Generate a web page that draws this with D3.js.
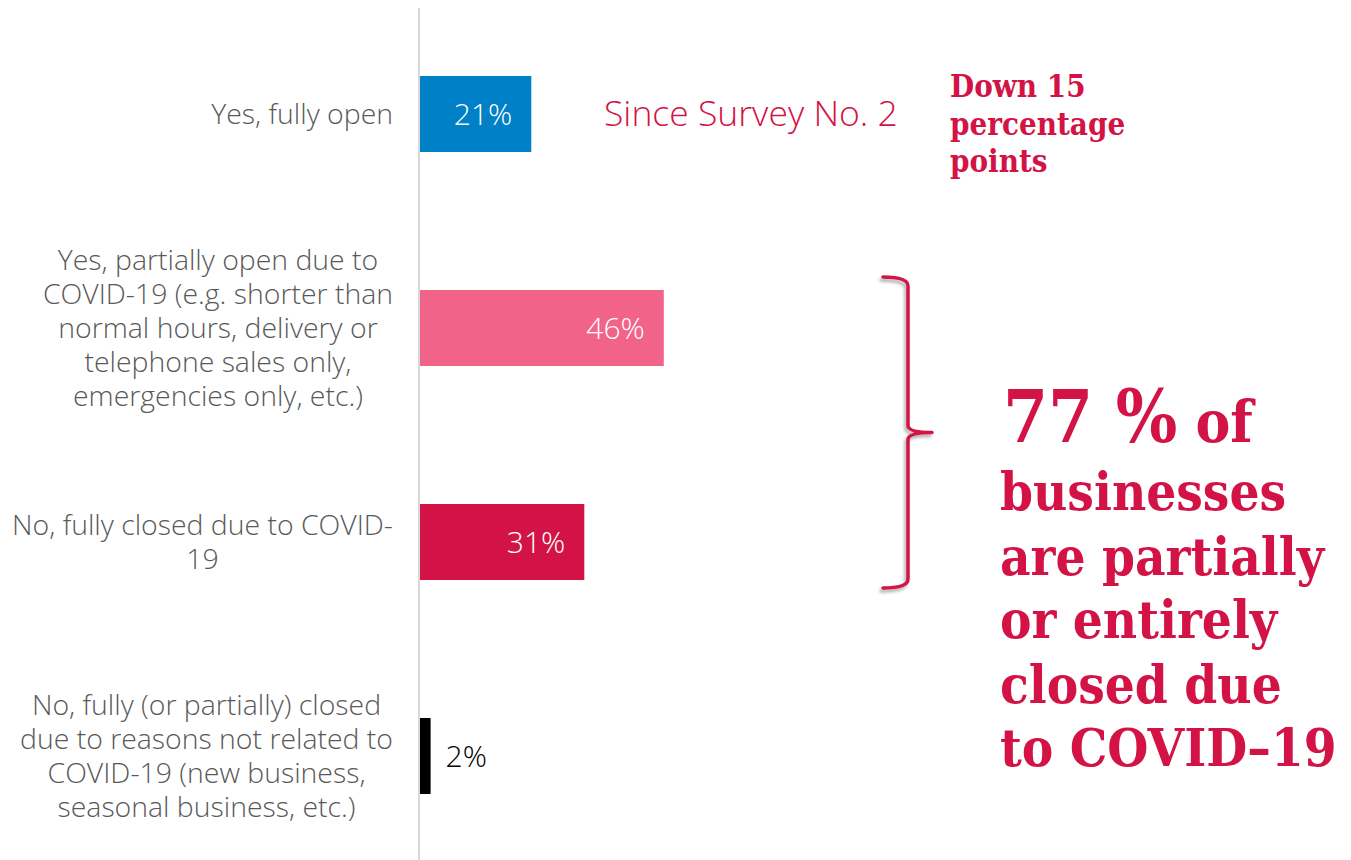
<!DOCTYPE html>
<html>
<head>
<meta charset="utf-8">
<script src="https://cdn.jsdelivr.net/npm/d3@7"></script>
<style>
  html, body { margin: 0; padding: 0; background: #fff; }
  svg { display: block; }
  .sans { font-family: "Open Sans", "Noto Sans", sans-serif; font-weight: 300; }
  .serif { font-family: "DejaVu Serif Condensed", "DejaVu Serif", serif; font-stretch: condensed; font-weight: bold; }
</style>
</head>
<body>
<svg id="chart" width="1351" height="860"></svg>
<script>
// Survey answers (line breaks as shown on the axis)
const categories = [
  "Yes, fully open",
  "Yes, partially open due to\nCOVID-19 (e.g. shorter than\nnormal hours, delivery or\ntelephone sales only,\nemergencies only, etc.)",
  "No, fully closed due to COVID-\n19",
  "No, fully (or partially) closed\ndue to reasons not related to\nCOVID-19 (new business,\nseasonal business, etc.)"
];
const shares = [21, 46, 31, 2];
const barColors = ["#0080C6", "#F26389", "#D31245", "#000000"];

const accent = "#D31245";
const sinceLabel = "Since Survey No. 2";
const changeLines = ["Down 15", "percentage", "points"];
const summaryLines = ["businesses", "are partially", "or entirely", "closed due", "to COVID\u201319"];

const svg = d3.select("#chart");

const x = d3.scaleLinear().domain([0, 100]).range([420, 950]);
const y = d3.scaleBand()
  .domain(categories)
  .range([7, 863])
  .paddingInner(0.645)
  .paddingOuter(0.3225);

// drop shadow for the brace
const defs = svg.append("defs");
const f = defs.append("filter").attr("id", "shadow")
  .attr("x", "-50%").attr("y", "-10%").attr("width", "200%").attr("height", "120%");
f.append("feDropShadow").attr("dx", -2).attr("dy", 3).attr("stdDeviation", 1.6)
  .attr("flood-color", "#000").attr("flood-opacity", 0.3);

// vertical category axis line
svg.append("line")
  .attr("x1", x(0) - 1).attr("x2", x(0) - 1)
  .attr("y1", 8).attr("y2", 860)
  .attr("stroke", "#D9D9D9").attr("stroke-width", 2);

// bars
svg.append("g").selectAll("rect")
  .data(categories)
  .join("rect")
  .attr("x", x(0))
  .attr("y", d => y(d))
  .attr("width", (d, i) => x(shares[i]) - x(0))
  .attr("height", y.bandwidth())
  .attr("fill", (d, i) => barColors[i]);

// value labels
svg.append("g").selectAll("text")
  .data(categories)
  .join("text")
  .attr("class", "sans")
  .attr("font-size", 30)
  .attr("x", (d, i) => shares[i] >= 10 ? x(shares[i]) - 19 : x(shares[i]) + 15)
  .attr("y", d => y(d) + y.bandwidth() / 2)
  .attr("dy", "0.36em")
  .attr("text-anchor", (d, i) => shares[i] >= 10 ? "end" : "start")
  .attr("fill", (d, i) => shares[i] >= 10 ? "#fff" : "#000")
  .text((d, i) => shares[i] + "%");

// category labels: centred lines, block right-aligned against the axis
const lineH = 34;
const labelRight = 393;
const lab = svg.append("g");
categories.forEach(cat => {
  const lines = cat.split("\n");
  const cy = y(cat) + y.bandwidth() / 2;
  const t = lab.append("text")
    .attr("class", "sans")
    .attr("font-size", 28.4)
    .attr("fill", "#595959")
    .attr("text-anchor", "middle");
  const spans = lines.map((ln, k) => t.append("tspan")
    .attr("y", cy + (k - (lines.length - 1) / 2) * lineH)
    .attr("dy", "0.36em")
    .text(ln));
  const w = d3.max(spans, s => s.node().getComputedTextLength());
  spans.forEach(s => s.attr("x", labelRight - w / 2));
});

// "Since Survey No. 2"
svg.append("text")
  .attr("class", "sans")
  .attr("font-size", 35.5)
  .attr("fill", accent)
  .attr("x", 604)
  .attr("y", y(categories[0]) + y.bandwidth() / 2)
  .attr("dy", "0.34em")
  .text(sinceLabel);

// change note
const chg = svg.append("text")
  .attr("class", "serif")
  .attr("font-size", 31)
  .attr("fill", accent);
changeLines.forEach((ln, k) => chg.append("tspan")
  .attr("x", 950).attr("y", 97 + k * 37.5).text(ln));

// brace grouping the two "closed" answers
const braceTop = y(categories[1]) - 13;
const braceBot = y(categories[2]) + y.bandwidth() + 8;
const braceMid = (braceTop + braceBot) / 2;
const bx0 = 883, bx1 = 908, bx2 = 932;
const brace = d3.path();
brace.moveTo(bx0, braceTop);
brace.quadraticCurveTo(bx1, braceTop, bx1, braceTop + 9);
brace.lineTo(bx1, braceMid - 7);
brace.quadraticCurveTo(bx1, braceMid, bx2, braceMid);
brace.moveTo(bx2, braceMid);
brace.quadraticCurveTo(bx1, braceMid, bx1, braceMid + 7);
brace.lineTo(bx1, braceBot - 9);
brace.quadraticCurveTo(bx1, braceBot, bx0, braceBot);
svg.append("path")
  .attr("d", brace.toString())
  .attr("fill", "none")
  .attr("stroke", accent)
  .attr("stroke-width", 3.5)
  .attr("stroke-linecap", "round")
  .attr("stroke-linejoin", "round")
  .attr("filter", "url(#shadow)");

// summary statement
const closedShare = shares[1] + shares[2];
const sum = svg.append("text")
  .attr("class", "serif")
  .attr("fill", accent);
sum.append("tspan").attr("x", 1003).attr("y", 442)
  .attr("font-size", 72).text(closedShare + " %");
sum.append("tspan").attr("font-size", 58).text(" of");
const baselines = [510, 575, 638, 703, 766];
summaryLines.forEach((ln, k) => sum.append("tspan")
  .attr("x", 1000).attr("y", baselines[k])
  .attr("font-size", 52.5).text(ln));
</script>
</body>
</html>
